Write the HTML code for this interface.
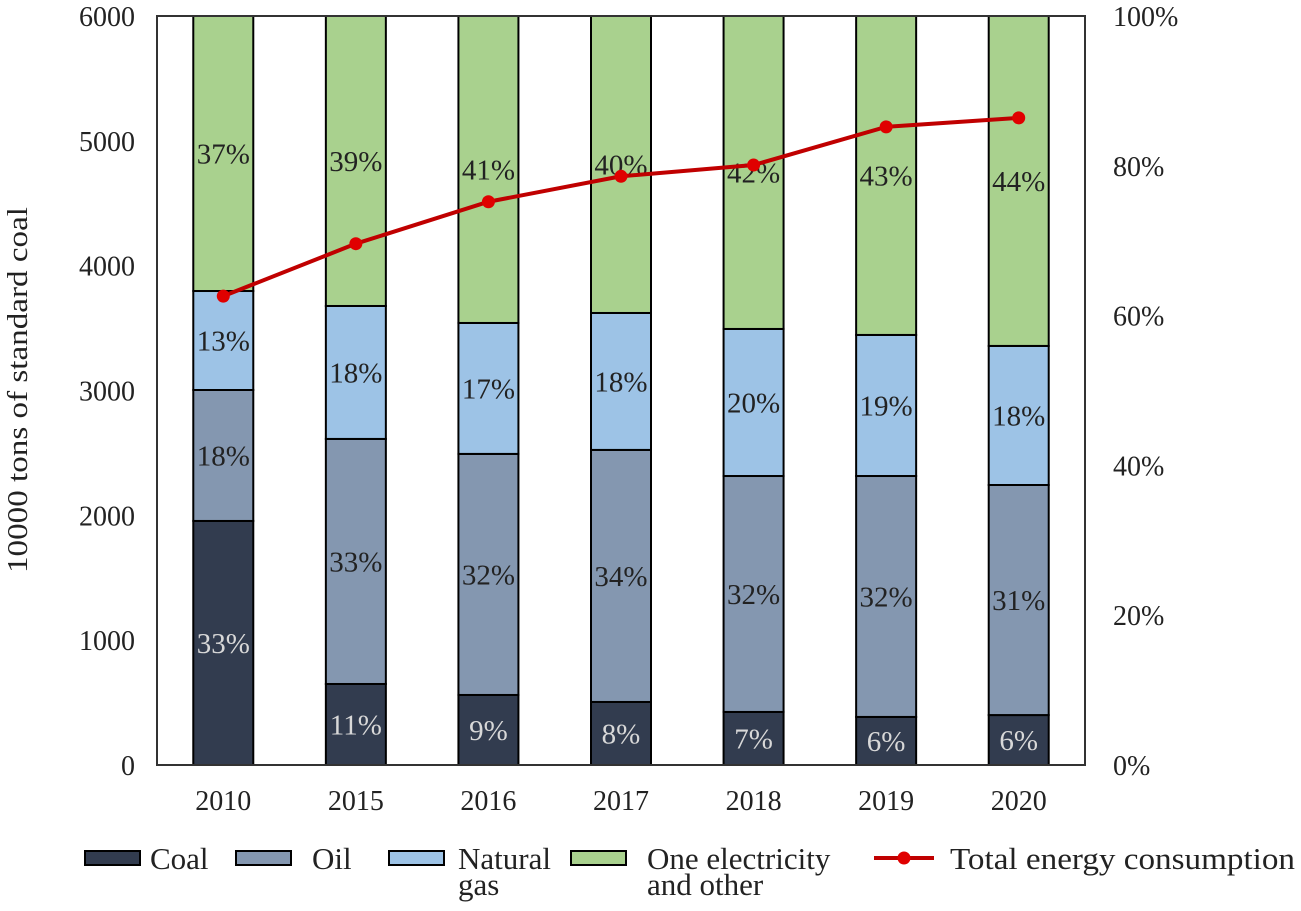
<!DOCTYPE html>
<html><head><meta charset="utf-8"><style>
body{margin:0;background:#fff;}
svg text{font-family:"Liberation Serif",serif;}
</style></head><body>
<svg id="chart" width="1301" height="906" xmlns="http://www.w3.org/2000/svg"></svg>
<script>
const categories=["2010","2015","2016","2017","2018","2019","2020"];
const coal=[1955,649,561,505,425,385,400];
const oil=[1049,1963,1931,2019,1890,1930,1843];
const gas=[793,1065,1049,1097,1178,1130,1114];
const other=[2300,2400,2500,2450,2600,2650,2700];
const coalPct=["33%","11%","9%","8%","7%","6%","6%"];
const oilPct=["18%","33%","32%","34%","32%","32%","31%"];
const gasPct=["13%","18%","17%","18%","20%","19%","18%"];
const otherPct=["37%","39%","41%","40%","42%","43%","44%"];
const totalShare=[62.6,69.6,75.2,78.6,80.1,85.2,86.4];
const leftTicks=[0,1000,2000,3000,4000,5000,6000];
const rightTicks=[0,20,40,60,80,100];

const NS="http://www.w3.org/2000/svg";
const svg=document.getElementById('chart');
const L=157,R=1085,T=16,B=765,YMAX=6000;
const step=(R-L)/categories.length, bw=60;
const y=v=>B-Math.min(v,YMAX)/YMAX*(B-T);
const yr=p=>B-p/100*(B-T);
const xc=i=>L+step*(i+0.5);
function mk(tag,attrs,txt){const e=document.createElementNS(NS,tag);for(const k in attrs)e.setAttribute(k,attrs[k]);if(txt!==undefined)e.textContent=txt;svg.appendChild(e);return e;}

const series=[[coal,coalPct,"#323c4f","#d8d8d8","coal"],[oil,oilPct,"#8497b0","#222","oil"],[gas,gasPct,"#9dc3e6","#222","gas"],[other,otherPct,"#a9d18e","#222","other"]];
categories.forEach((c,i)=>{
  let base=0;
  series.forEach(s=>{
    const v=s[0][i];const top=Math.min(base+v,YMAX);
    const r=mk('rect',{x:xc(i)-bw/2,y:y(top),width:bw,height:y(base)-y(top),fill:s[2],stroke:'#000','stroke-width':2});
    
    
    const t=mk('text',{x:xc(i),y:(y(top)+y(base))/2+10,'text-anchor':'middle','font-size':29,fill:s[3]},s[1][i]);
    
    
    base=top;
  });
  const xl=mk('text',{x:xc(i),y:810,'text-anchor':'middle','font-size':28,fill:'#222'},c);
  
  
});
const frame=mk('rect',{x:L,y:T,width:R-L,height:B-T,fill:'none',stroke:'#333','stroke-width':2});


leftTicks.forEach(v=>{const t=mk('text',{x:135,y:y(v)+10,'text-anchor':'end','font-size':28,fill:'#222'},v);

});
rightTicks.forEach(v=>{const t=mk('text',{x:1113,y:yr(v)+10,'font-size':28,fill:'#222'},v+'%');

});
const yt=mk('text',{x:0,y:0,transform:'translate(27,390) rotate(-90)','text-anchor':'middle','font-size':28,fill:'#222',textLength:366,lengthAdjust:'spacingAndGlyphs'},'10000 tons of standard coal');


const pl=mk('polyline',{points:totalShare.map((p,i)=>xc(i)+','+yr(p)).join(' '),fill:'none',stroke:'#c00000','stroke-width':4});


totalShare.forEach((p,i)=>{const c=mk('circle',{cx:xc(i),cy:yr(p),r:6.5,fill:'#e00000'});

});
// legend
const leg=[[85,"#323c4f",["Coal"],150],[236,"#8497b0",["Oil"],312],[389,"#9dc3e6",["Natural","gas"],458],[571,"#a9d18e",["One electricity","and other"],647]];
leg.forEach((l,k)=>{
  const r=mk('rect',{x:l[0],y:851,width:55,height:14,fill:l[1],stroke:'#000','stroke-width':2});
  
  
  l[2].forEach((s,j)=>{const t=mk('text',{x:l[3],y:869+j*26,'font-size':31,fill:'#222'},s);
  
  });
});
const ll=mk('line',{x1:874,y1:858,x2:934,y2:858,stroke:'#c00000','stroke-width':4});


const lc=mk('circle',{cx:904,cy:858,r:6.5,fill:'#e00000'});


const lt=mk('text',{x:950,y:869,'font-size':31,fill:'#222',textLength:345,lengthAdjust:'spacingAndGlyphs'},'Total energy consumption');


</script>
</body></html>
